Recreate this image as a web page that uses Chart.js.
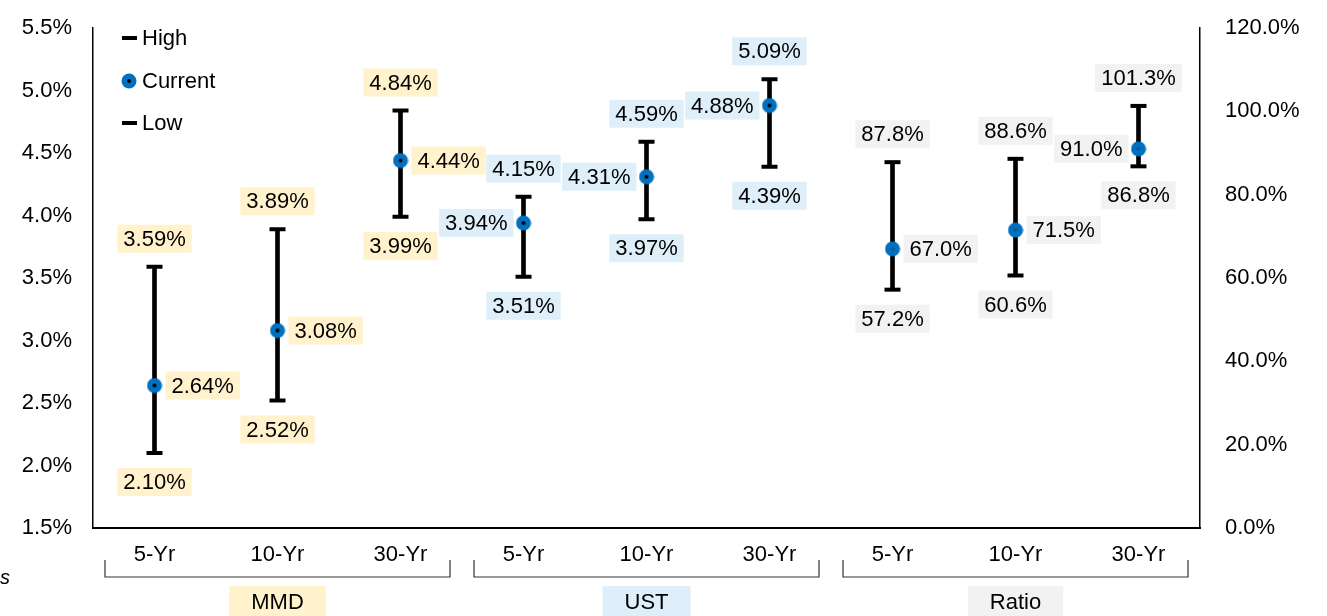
<!DOCTYPE html>
<html>
<head>
<meta charset="utf-8">
<script src="https://cdn.jsdelivr.net/npm/chart.js@4/dist/chart.umd.min.js"></script>
<style>
  body { margin: 0; background: #fff; }
  #wrap { width: 1327px; height: 616px; position: relative; }
</style>
</head>
<body>
<div id="wrap"><canvas id="chart"></canvas></div>
<script>
const categories = ['5-Yr', '10-Yr', '30-Yr', '5-Yr', '10-Yr', '30-Yr', '5-Yr', '10-Yr', '30-Yr'];
const groups = ['MMD', 'UST', 'Ratio'];

const mmdHigh = [3.59, 3.89, 4.84];
const mmdCurrent = [2.64, 3.08, 4.44];
const mmdLow = [2.10, 2.52, 3.99];

const ustHigh = [4.15, 4.59, 5.09];
const ustCurrent = [3.94, 4.31, 4.88];
const ustLow = [3.51, 3.97, 4.39];

const ratioHigh = [87.8, 88.6, 101.3];
const ratioCurrent = [67.0, 71.5, 91.0];
const ratioLow = [57.2, 60.6, 86.8];

const leftTicks = { min: 1.5, max: 5.5, step: 0.5 };
const rightTicks = { min: 0, max: 120, step: 20 };

const FONT = '"Liberation Sans", Arial, sans-serif';
const FS = 22;
const groupBg = ['#FFF2CC', '#DEEFFA', '#F2F2F2'];
const currentSide = ['right', 'right', 'right', 'left', 'left', 'left', 'right', 'right', 'left'];

const none3 = [null, null, null];
const rateHigh = [...mmdHigh, ...ustHigh, ...none3];
const rateCur = [...mmdCurrent, ...ustCurrent, ...none3];
const rateLow = [...mmdLow, ...ustLow, ...none3];
const rHigh = [...none3, ...none3, ...ratioHigh];
const rCur = [...none3, ...none3, ...ratioCurrent];
const rLow = [...none3, ...none3, ...ratioLow];

function makeDot(center) {
  const c = document.createElement('canvas');
  c.width = 16; c.height = 16;
  const g = c.getContext('2d');
  g.fillStyle = '#0070C0';
  g.beginPath(); g.arc(8, 8, 7.5, 0, Math.PI * 2); g.fill();
  g.fillStyle = center;
  g.beginPath(); g.arc(8, 8, 2, 0, Math.PI * 2); g.fill();
  return c;
}
const dotRate = makeDot('#000');
const dotRatio = makeDot('#0A5CA0');

function capSet(label, data, axis) {
  return {
    type: 'line', label: label, data: data, yAxisID: axis,
    showLine: false, pointStyle: 'line', pointRadius: 8, pointHoverRadius: 8,
    borderColor: '#000', pointBorderWidth: 4, order: 1
  };
}
function curSet(label, data, axis, img) {
  return {
    type: 'line', label: label, data: data, yAxisID: axis,
    showLine: false, pointStyle: img, pointRadius: 8, order: 0
  };
}
function rangeSet(lo, hi, axis) {
  return {
    type: 'bar', label: 'range', yAxisID: axis,
    data: lo.map((v, i) => v == null ? null : [v, hi[i]]),
    backgroundColor: '#000', barThickness: 4, grouped: false, order: 2
  };
}

function box(ctx, text, x, y, align, bg) {
  ctx.font = FS + 'px ' + FONT;
  const w = ctx.measureText(text).width + 12;
  const h = 28;
  let left = x - w / 2;
  if (align === 'left') left = x;
  if (align === 'right') left = x - w;
  ctx.fillStyle = bg;
  ctx.fillRect(left, y - h / 2, w, h);
  ctx.fillStyle = '#000';
  ctx.textAlign = 'center';
  ctx.textBaseline = 'middle';
  ctx.fillText(text, left + w / 2, y + 1);
}

const labelPlugin = {
  id: 'labels',
  afterDatasetsDraw(chart) {
    const ctx = chart.ctx;
    const x = chart.scales.x;
    const highs = [...mmdHigh, ...ustHigh, ...ratioHigh];
    const curs = [...mmdCurrent, ...ustCurrent, ...ratioCurrent];
    const lows = [...mmdLow, ...ustLow, ...ratioLow];
    ctx.save();
    for (let i = 0; i < categories.length; i++) {
      const g = Math.floor(i / 3);
      const ys = g < 2 ? chart.scales.y : chart.scales.y2;
      const fmt = v => g < 2 ? v.toFixed(2) + '%' : v.toFixed(1) + '%';
      const px = x.getPixelForValue(i);
      box(ctx, fmt(highs[i]), px, ys.getPixelForValue(highs[i]) - 28, 'center', groupBg[g]);
      box(ctx, fmt(lows[i]), px, ys.getPixelForValue(lows[i]) + 29, 'center', groupBg[g]);
      const cy = ys.getPixelForValue(curs[i]);
      if (currentSide[i] === 'right') box(ctx, fmt(curs[i]), px + 11, cy, 'left', groupBg[g]);
      else box(ctx, fmt(curs[i]), px - 10, cy, 'right', groupBg[g]);
    }
    ctx.restore();
  },
  afterDraw(chart) {
    const ctx = chart.ctx;
    const x = chart.scales.x;
    const half = (x.getPixelForValue(1) - x.getPixelForValue(0)) / 2;
    ctx.save();
    // legend inside plot area
    ctx.font = FS + 'px ' + FONT;
    ctx.textAlign = 'left';
    ctx.textBaseline = 'middle';
    const lx = 129;
    [['High', 38], ['Current', 81], ['Low', 123]].forEach(([t, y]) => {
      ctx.fillStyle = '#000';
      if (t === 'Current') ctx.drawImage(dotRate, lx - 8, y - 8);
      else ctx.fillRect(lx - 7, y - 2, 15, 4);
      ctx.fillText(t, lx + 13, y + 1);
    });
    // group brackets and names
    ctx.strokeStyle = '#333';
    ctx.lineWidth = 1.2;
    groups.forEach((name, g) => {
      const x0 = x.getPixelForValue(g * 3) - half + 12;
      const x1 = x.getPixelForValue(g * 3 + 2) + half - 12;
      ctx.beginPath();
      ctx.moveTo(x0, 560); ctx.lineTo(x0, 577); ctx.lineTo(x1, 577); ctx.lineTo(x1, 560);
      ctx.stroke();
      const cx = (x0 + x1) / 2;
      ctx.font = FS + 'px ' + FONT;
      const w = ctx.measureText(name).width + 44;
      ctx.fillStyle = groupBg[g];
      ctx.fillRect(cx - w / 2, 586, w, 32);
      ctx.fillStyle = '#000';
      ctx.textAlign = 'center';
      ctx.fillText(name, cx, 603);
    });
    ctx.font = 'italic 20px ' + FONT;
    ctx.textAlign = 'left';
    ctx.fillText('s', 0, 578);
    ctx.restore();
  }
};

const noPad = s => { s.paddingTop = 0; s.paddingBottom = 0; };

new Chart(document.getElementById('chart'), {
  data: {
    labels: categories,
    datasets: [
      curSet('Current', rateCur, 'y', dotRate),
      curSet('Current', rCur, 'y2', dotRatio),
      capSet('High', rateHigh, 'y'),
      capSet('Low', rateLow, 'y'),
      capSet('High', rHigh, 'y2'),
      capSet('Low', rLow, 'y2'),
      rangeSet(rateLow, rateHigh, 'y'),
      rangeSet(rLow, rHigh, 'y2')
    ]
  },
  options: {
    responsive: true,
    maintainAspectRatio: false,
    animation: false,
    layout: { padding: { top: 28, left: 0, right: 0, bottom: 0 } },
    plugins: { legend: { display: false }, tooltip: { enabled: false } },
    scales: {
      x: {
        grid: { display: false, drawTicks: false },
        border: { display: true, color: '#000', width: 2 },
        ticks: { color: '#000', font: { family: FONT, size: FS }, padding: 14 },
        afterFit: s => { s.height = 88; }
      },
      y: {
        position: 'left',
        min: leftTicks.min, max: leftTicks.max,
        grid: { display: false, drawTicks: false },
        border: { display: true, color: '#000', width: 1.5 },
        ticks: {
          stepSize: leftTicks.step, color: '#000', padding: 21,
          font: { family: FONT, size: FS },
          callback: v => v.toFixed(1) + '%'
        },
        afterFit: s => { s.width = 93; noPad(s); }
      },
      y2: {
        position: 'right',
        min: rightTicks.min, max: rightTicks.max,
        grid: { display: false, drawTicks: false },
        border: { display: true, color: '#000', width: 1.5 },
        ticks: {
          stepSize: rightTicks.step, color: '#000', padding: 25,
          font: { family: FONT, size: FS },
          callback: v => v.toFixed(1) + '%'
        },
        afterFit: s => { s.width = 127; noPad(s); }
      }
    }
  },
  plugins: [labelPlugin]
});
</script>
</body>
</html>
